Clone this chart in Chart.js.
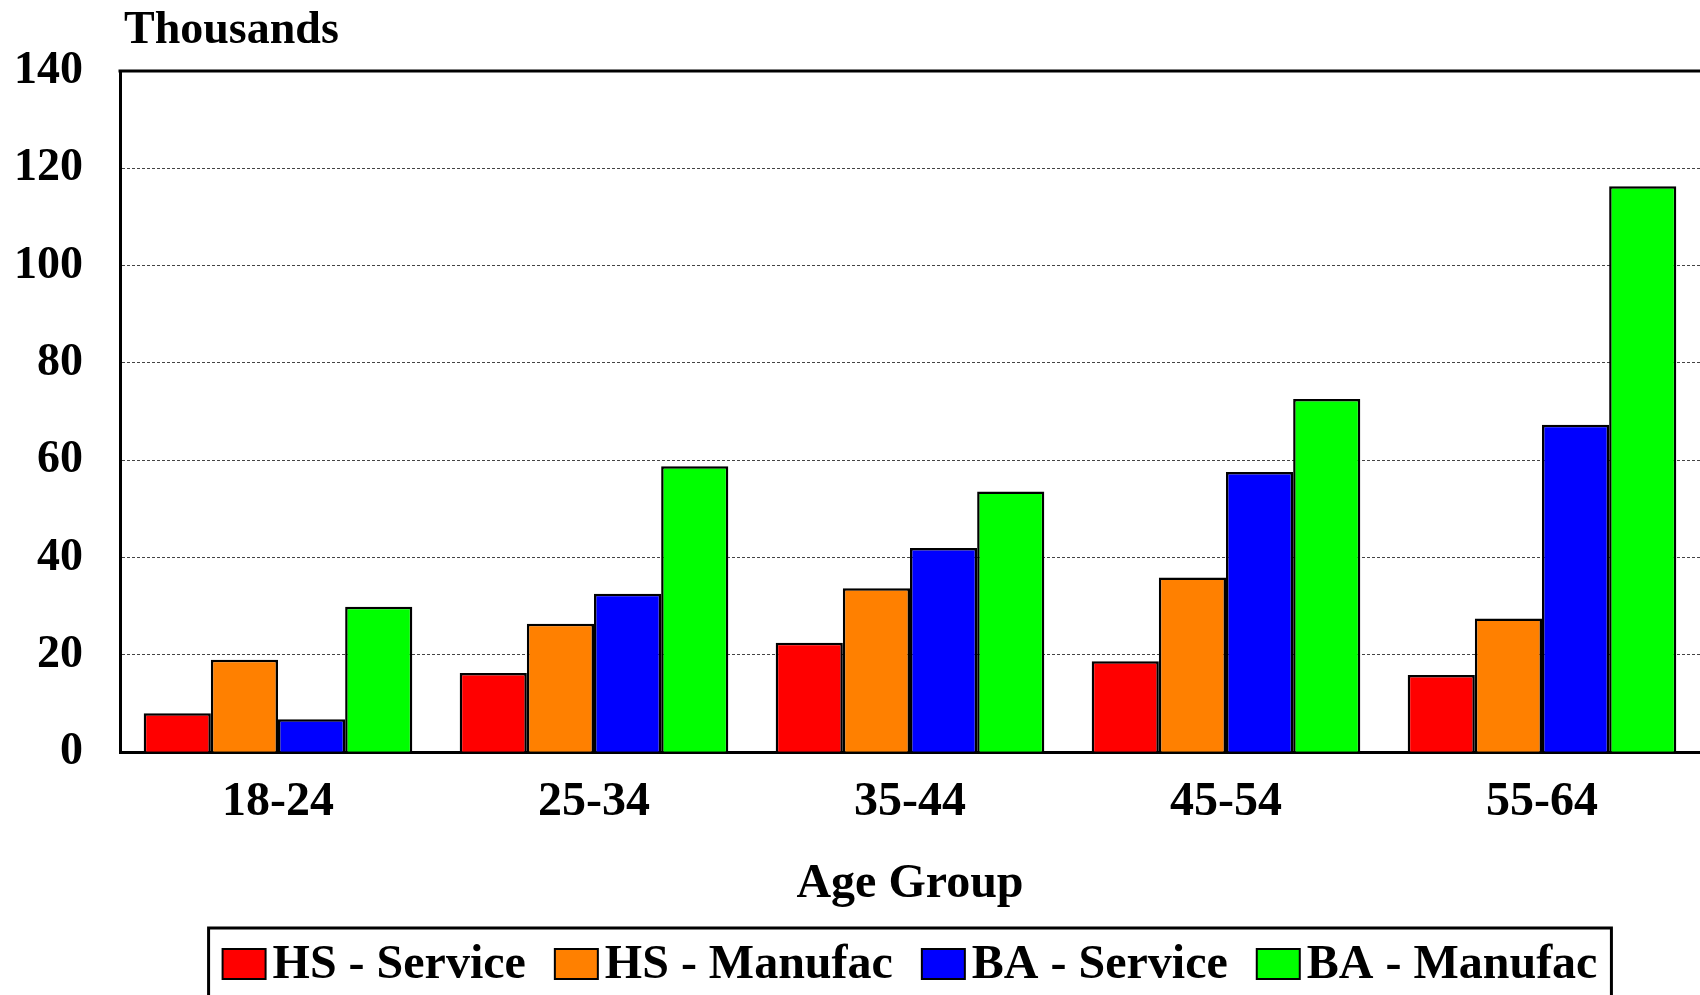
<!DOCTYPE html>
<html>
<head>
<meta charset="utf-8">
<script src="https://cdn.jsdelivr.net/npm/chart.js@4.4.1/dist/chart.umd.min.js"></script>
<style>
  html, body { margin: 0; padding: 0; background: #fff; }
  #caixa { width: 1700px; height: 995px; position: relative; }
</style>
</head>
<body>
<div id="caixa"><canvas id="grafico"></canvas></div>
<script>
// dados (milhares)
let grupos = ["18-24", "25-34", "35-44", "45-54", "55-64"];
let hsServico = [8.0, 16.3, 22.5, 18.7, 15.9];
let hsManufac = [19.0, 26.4, 33.7, 35.9, 27.5];
let baServico = [6.8, 32.6, 42.0, 57.6, 67.3];
let baManufac = [29.9, 58.8, 53.6, 72.6, 116.3];
let nomes = ["HS - Service", "HS - Manufac", "BA - Service", "BA - Manufac"];
let cores = ["#ff0000", "#ff8000", "#0000ff", "#00ff00"];
let marcasY = [0, 20, 40, 60, 80, 100, 120, 140];

let fonte = "'Liberation Serif', 'Times New Roman', serif";

// borda de cima, "Thousands" e a legenda com moldura
let extras = {
  id: "extras",
  afterDraw(chart) {
    let ctx = chart.ctx;
    let area = chart.chartArea;
    ctx.save();

    ctx.strokeStyle = "#000";
    ctx.lineWidth = 3;
    ctx.setLineDash([]);
    ctx.beginPath();
    ctx.moveTo(area.left - 1.5, area.top);
    ctx.lineTo(area.right, area.top);
    ctx.stroke();

    ctx.fillStyle = "#000";
    ctx.font = "bold 46px " + fonte;
    ctx.textBaseline = "alphabetic";
    ctx.textAlign = "left";
    ctx.fillText("Thousands", area.left + 4, 43);

    ctx.font = "bold 48px " + fonte;
    let larguras = nomes.map((n) => ctx.measureText(n).width);
    let quad = 43, folga = 7, entre = 29, margem = 14;
    let total = larguras.reduce((a, b) => a + b, 0) + nomes.length * (quad + folga) + (nomes.length - 1) * entre;
    let centro = (area.left + area.right) / 2;
    let x = centro - total / 2;
    let topo = chart.height - 67;
    ctx.lineWidth = 3;
    ctx.strokeRect(x - margem, topo, total + 2 * margem, 120);

    let meio = topo + 36;
    ctx.textBaseline = "middle";
    nomes.forEach((n, i) => {
      ctx.fillStyle = cores[i];
      ctx.fillRect(x, meio - 15, quad, 30);
      ctx.lineWidth = 2;
      ctx.strokeRect(x, meio - 15, quad, 30);
      ctx.fillStyle = "#000";
      ctx.fillText(n, x + quad + folga, meio + 2);
      x += quad + folga + larguras[i] + entre;
    });
    ctx.restore();
  },
};

let series = [hsServico, hsManufac, baServico, baManufac];

let grafico = new Chart(document.getElementById("grafico"), {
  type: "bar",
  data: {
    labels: grupos,
    datasets: series.map((s, i) => ({
      label: nomes[i],
      data: s,
      backgroundColor: cores[i],
      borderColor: "#000",
      borderWidth: 2.5,
      borderSkipped: "bottom",
      categoryPercentage: 0.85,
      barPercentage: 1.0,
    })),
  },
  options: {
    responsive: true,
    maintainAspectRatio: false,
    animation: false,
    layout: { padding: { top: 71, right: 0, left: 0, bottom: 82 } },
    plugins: {
      legend: { display: false },
      tooltip: { enabled: false },
    },
    scales: {
      x: {
        grid: { display: false },
        border: { display: true, color: "#000", width: 3 },
        ticks: {
          color: "#000",
          padding: 13,
          font: { family: fonte, size: 48, weight: "bold" },
        },
        title: {
          display: true,
          text: "Age Group",
          color: "#000",
          padding: { top: 11.5, bottom: 0 },
          font: { family: fonte, size: 48, weight: "bold" },
        },
      },
      y: {
        min: 0,
        max: 140,
        afterFit(scale) {
          scale.width = 120;
        },
        afterBuildTicks(scale) {
          scale.ticks = marcasY.map((v) => ({ value: v }));
        },
        grid: {
          color: "#444",
          lineWidth: 1,
          drawTicks: false,
        },
        border: { display: true, color: "#000", width: 3, dash: [3, 2] },
        ticks: {
          color: "#000",
          padding: 37,
          font: { family: fonte, size: 46, weight: "bold" },
        },
      },
    },
  },
  plugins: [extras],
});
</script>
</body>
</html>
